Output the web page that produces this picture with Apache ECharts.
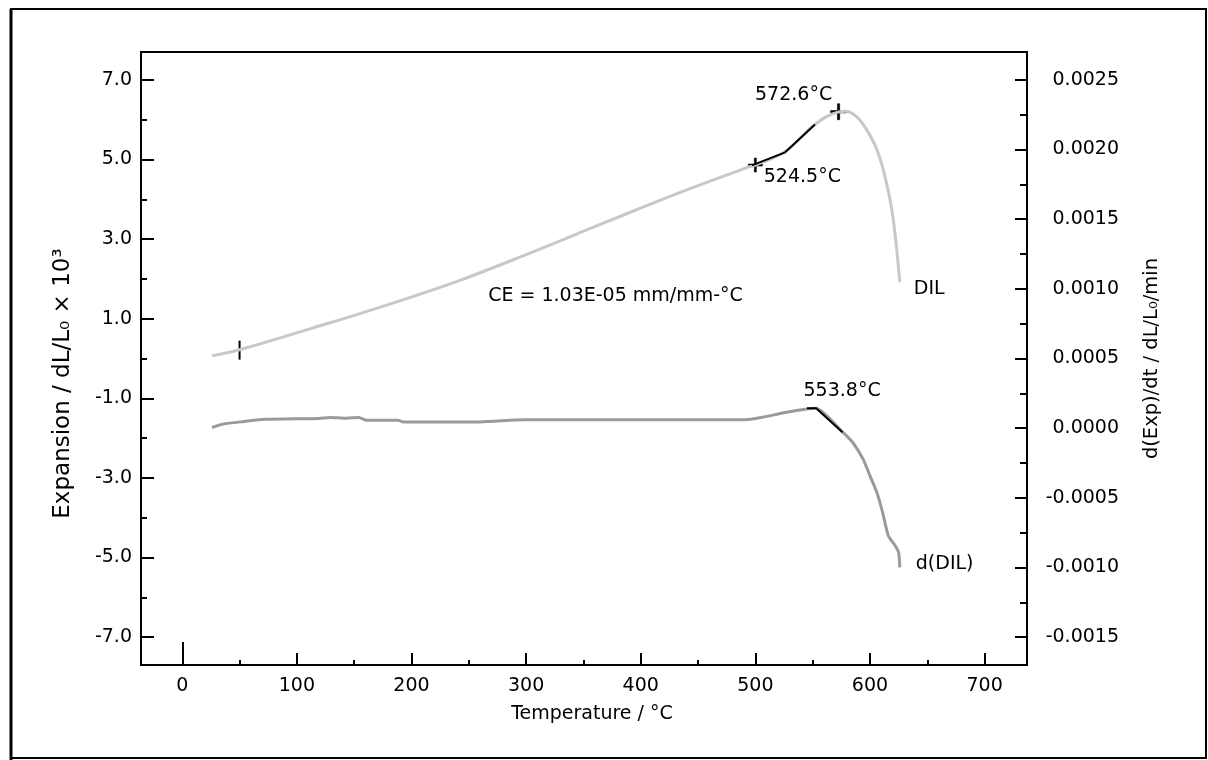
<!DOCTYPE html>
<html>
<head>
<meta charset="utf-8">
<script src="https://cdn.jsdelivr.net/npm/echarts@6/dist/echarts.min.js"></script>
<style>
  html, body { margin: 0; padding: 0; background: #fff; }
  #chart { width: 1208px; height: 760px; }
</style>
</head>
<body>
<div id="chart"></div>
<script>
// temperature (°C) and expansion dL/Lo x 10^3 of the DIL curve
const dilTemp = [26, 50, 112, 177, 241, 306, 370, 435, 493, 500, 526, 552, 572, 579, 588, 597, 606, 613, 619, 623, 626]
const dilExp = [0.07, 0.22, 0.75, 1.33, 1.95, 2.68, 3.43, 4.18, 4.80, 4.86, 5.20, 5.88, 6.19, 6.21, 6.08, 5.75, 5.25, 4.58, 3.75, 2.83, 1.92]
// black onset tangent on DIL
const tangentTemp = [497, 526, 552]
const tangentExp = [4.85, 5.18, 5.88]
// derivative curve d(DIL)
const ddTemp = [26, 36, 54, 72, 119, 129, 142, 154, 161, 188, 193, 260, 298, 491, 505, 526, 545, 553, 576, 585, 594, 600, 606, 611, 616, 622, 625, 626]
const ddVal = [0.000005, 0.00003, 0.000048, 0.000064, 0.00007, 0.000077, 0.000072, 0.000077, 0.000057, 0.000057, 0.000045, 0.000045, 0.00006, 0.00006, 0.000076, 0.000112, 0.000138, 0.000143, -0.000026, -0.000103, -0.000222, -0.000342, -0.000461, -0.000604, -0.000772, -0.000844, -0.000891, -0.000999]
const ddBlackTemp = [545, 553, 576]
const ddBlackVal = [0.000143, 0.000143, -0.00003]
// tick values
const xLabels = [0, 100, 200, 300, 400, 500, 600, 700]
const xMinor = [50, 150, 250, 350, 450, 550, 650]
const leftLabels = [-7, -5, -3, -1, 1, 3, 5, 7]
const leftMinor = [-6, -4, -2, 0, 2, 4, 6]
const rightLabels = [-0.0015, -0.001, -0.0005, 0, 0.0005, 0.001, 0.0015, 0.002, 0.0025]
const rightMinor = [-0.00125, -0.00075, -0.00025, 0.00025, 0.00075, 0.00125, 0.00175, 0.00225]

const zip = (xs, ys) => xs.map((x, i) => [x, ys[i]])
const font = 'DejaVu Sans'
const plus = 'path://M-1.4,-10H1.4V-1.4H10V1.4H1.4V10H-1.4V1.4H-10V-1.4H-1.4Z'

const chart = echarts.init(document.getElementById('chart'))

const hidden = { show: false }
const noLine = { show: false, onZero: false }
const blackLine = { show: true, onZero: false, lineStyle: { color: '#000', width: 2 } }

function xAxisOf (ticks, length, withLabels) {
  return {
    type: 'value', min: -36, max: 737, position: 'bottom',
    axisLine: withLabels ? blackLine : noLine,
    axisTick: { show: true, inside: true, length: length, customValues: ticks, lineStyle: { color: '#000', width: 2 } },
    axisLabel: withLabels
      ? { show: true, customValues: xLabels, margin: 12, fontSize: 19, color: '#000', fontFamily: font }
      : hidden,
    splitLine: hidden,
    name: withLabels ? 'Temperature / °C' : '',
    nameLocation: 'middle',
    nameGap: 40,
    nameTextStyle: { fontSize: 19, color: '#000', fontFamily: font, padding: [0, 0, 0, 16] }
  }
}

const option = {
  animation: false,
  textStyle: { fontFamily: font },
  grid: { left: 141, top: 52, right: 181, bottom: 95, show: true, borderColor: '#000', borderWidth: 2, containLabel: false, outerBoundsMode: 'none' },
  graphic: [
    { type: 'rect', shape: { x: 11, y: 9, width: 1195, height: 749 }, style: { fill: 'none', stroke: '#000', lineWidth: 2 } },
    { type: 'line', shape: { x1: 11, y1: 9, x2: 11, y2: 760 }, style: { stroke: '#000', lineWidth: 3 } }
  ],
  xAxis: [
    xAxisOf([100, 200, 300, 400, 500, 600, 700], 12, true),
    xAxisOf(xMinor, 5, false),
    xAxisOf([0], 23, false)
  ],
  yAxis: [
    {
      type: 'value', min: -7.7, max: 7.7, position: 'left',
      axisLine: blackLine,
      axisTick: { show: true, inside: true, length: 13, customValues: leftLabels, lineStyle: { color: '#000', width: 2 } },
      axisLabel: { show: true, customValues: leftLabels, margin: 9, fontSize: 19, color: '#000', formatter: v => v.toFixed(1) },
      splitLine: hidden,
      name: 'Expansion / dL/L₀ × 10³',
      nameLocation: 'middle',
      nameRotate: 90,
      nameGap: 66,
      nameTextStyle: { fontSize: 23, color: '#000', fontFamily: font, padding: [0, 50, 0, 0] }
    },
    {
      type: 'value', min: -7.7, max: 7.7, position: 'left',
      axisLine: noLine, axisLabel: hidden, splitLine: hidden,
      axisTick: { show: true, inside: true, length: 6, customValues: leftMinor, lineStyle: { color: '#000', width: 2 } }
    },
    {
      type: 'value', min: -0.0017, max: 0.0027, position: 'right',
      axisLine: blackLine,
      axisTick: { show: true, inside: true, length: 12, customValues: rightLabels, lineStyle: { color: '#000', width: 2 } },
      axisLabel: { show: true, customValues: rightLabels, align: 'right', margin: 92, fontSize: 19, color: '#000', formatter: v => v.toFixed(4) },
      splitLine: hidden,
      name: 'd(Exp)/dt / dL/L₀/min',
      nameLocation: 'middle',
      nameRotate: 90,
      nameGap: 115,
      nameTextStyle: { fontSize: 19.5, color: '#000', fontFamily: font }
    },
    {
      type: 'value', min: -0.0017, max: 0.0027, position: 'right',
      axisLine: noLine, axisLabel: hidden, splitLine: hidden,
      axisTick: { show: true, inside: true, length: 7, customValues: rightMinor, lineStyle: { color: '#000', width: 2 } }
    }
  ],
  series: [
    {
      name: 'DIL', type: 'line', xAxisIndex: 0, yAxisIndex: 0,
      data: zip(dilTemp, dilExp), smooth: 0.4, showSymbol: false, symbol: 'none',
      lineStyle: { color: '#c8c8c8', width: 3 },
      endLabel: { show: true, formatter: 'DIL', fontSize: 19, color: '#000', offset: [6, 7] }
    },
    {
      type: 'line', xAxisIndex: 0, yAxisIndex: 0, data: zip(tangentTemp, tangentExp),
      symbol: 'none', lineStyle: { color: '#000', width: 2 }
    },
    {
      name: 'd(DIL)', type: 'line', xAxisIndex: 0, yAxisIndex: 2,
      data: zip(ddTemp, ddVal), smooth: 0.2, symbol: 'none',
      lineStyle: { color: '#9a9a9a', width: 3 },
      endLabel: { show: true, formatter: 'd(DIL)', fontSize: 19, color: '#000', offset: [8, -3] }
    },
    {
      type: 'line', xAxisIndex: 0, yAxisIndex: 2, data: zip(ddBlackTemp, ddBlackVal),
      symbol: 'none', lineStyle: { color: '#000', width: 2 }
    },
    {
      // crosses drawn with a filled plus path; stroke thickens the arms
      type: 'scatter', xAxisIndex: 0, yAxisIndex: 0, symbol: plus, symbolSize: 16,
      itemStyle: { color: '#000', opacity: 1, borderColor: '#000', borderWidth: 0.6 },
      label: { show: true, position: 'inside', fontSize: 19, color: '#000' },
      data: [
        { value: [500, 4.86], symbolSize: 14, label: { formatter: '524.5°C', offset: [47, 12] } },
        { value: [572.6, 6.2], label: { formatter: '572.6°C', offset: [-45, -17] } }
      ]
    },
    {
      type: 'scatter', xAxisIndex: 0, yAxisIndex: 0, symbol: 'rect', symbolSize: [2, 19],
      itemStyle: { color: '#000', opacity: 1 }, data: [[50, 0.21]]
    },
    {
      type: 'scatter', xAxisIndex: 0, yAxisIndex: 0, symbolSize: 0,
      itemStyle: { opacity: 1 },
      label: { show: true, position: 'inside', fontSize: 19, color: '#000', formatter: 'CE = 1.03E-05 mm/mm-°C' },
      data: [[378, 1.58]]
    },
    {
      type: 'scatter', xAxisIndex: 0, yAxisIndex: 2, symbolSize: 0,
      itemStyle: { opacity: 1 },
      label: { show: true, position: 'inside', fontSize: 19, color: '#000', formatter: '553.8°C', offset: [26, -17] },
      data: [[553, 0.000143]]
    }
  ]
}

chart.setOption(option)
</script>
</body>
</html>
